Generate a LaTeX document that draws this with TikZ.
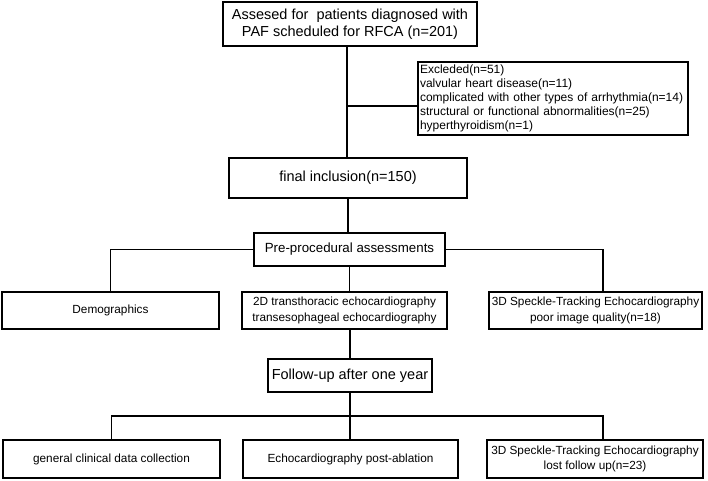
\documentclass[tikz,border=0pt]{standalone}
\usepackage{fontspec}
\setmainfont{Liberation Sans}
\usetikzlibrary{calc}
\begin{document}
\begin{tikzpicture}[x=1pt,y=-1pt,
  box/.style={draw, line width=1.5pt, inner sep=0pt, align=center},
  big/.style={font=\fontsize{14.5}{17}\selectfont},
  mid/.style={font=\fontsize{13.3}{16}\selectfont},
  small/.style={font=\fontsize{11.8}{15.5}\selectfont},
  conn/.style={line width=1.5pt}]
\useasboundingbox (0,0) rectangle (708,480);
\fill[white] (0,0) rectangle (708,480);
\node[box,big,minimum width=254pt,minimum height=44pt] (top) at (350,24) {Assesed for~ patients diagnosed with\\PAF scheduled for RFCA (n=201)};
\node[box,align=left,font=\fontsize{12}{14}\selectfont,minimum width=270pt,minimum height=73pt,text width=266pt] (excl) at (553,98.5) {\hyphenpenalty=10000 Excleded(n=51)\\valvular heart disease(n=11)\\complicated with other types of arrhythmia(n=14)\\structural or functional abnormalities(n=25)\\hyperthyroidism(n=1)};
\node[box,big,minimum width=238pt,minimum height=40pt] (final) at (348,178) {final inclusion(n=150)};
\node[box,mid,minimum width=191pt,minimum height=33pt] (pre) at (349.5,249.5) {Pre-procedural assessments};
\node[box,small,minimum width=217pt,minimum height=37pt] (demo) at (110.5,310.5) {Demographics};
\node[box,small,minimum width=205pt,minimum height=37pt] (tte) at (344.5,310.5) {2D transthoracic echocardiography\\transesophageal echocardiography};
\node[box,small,minimum width=213pt,minimum height=37pt] (std1) at (595.5,310.5) {3D Speckle-Tracking Echocardiography\\poor image quality(n=18)};
\node[box,big,minimum width=164pt,minimum height=33pt] (fu) at (350,375.5) {Follow-up after one year};
\node[box,small,minimum width=217pt,minimum height=38pt] (gen) at (111.5,459) {general clinical data collection};
\node[box,small,minimum width=215pt,minimum height=38pt] (echo) at (350.5,459) {Echocardiography post-ablation};
\node[box,small,minimum width=216pt,minimum height=38pt] (std2) at (595,459) {3D Speckle-Tracking Echocardiography\\lost follow up(n=23)};
\coordinate (j1) at (347,106);
\draw[conn] ([xshift=-3pt]top.south) -- ([xshift=-3pt]top.south |- final.north);
\draw[conn] (j1) -- (j1 -| excl.west);
\draw[conn] (final.south) -- (final.south |- pre.north);
\draw[conn] (pre.west) -| (demo.north);
\draw[conn] (pre.east) -| ([xshift=7.5pt]std1.north);
\draw[conn] (pre.south) -- (pre.south |- tte.north);
\draw[conn] (fu.north |- tte.south) -- (fu.north);
\draw[conn] (fu.south) -- (fu.south |- echo.north);
\draw[conn] (gen.north) -- (gen.north |- 0,416) -- ([xshift=8pt]std2.north |- 0,416) -- ([xshift=8pt]std2.north);
\end{tikzpicture}
\end{document}
